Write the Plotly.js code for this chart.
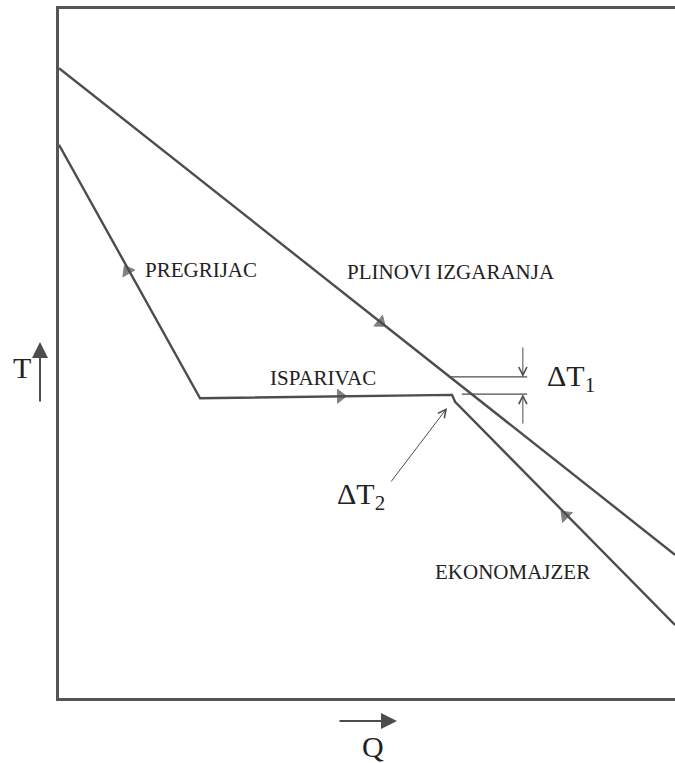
<!DOCTYPE html>
<html>
<head>
<meta charset="utf-8">
<script src="https://cdn.plot.ly/plotly-3.0.1.min.js"></script>
<style>
  html, body { margin: 0; padding: 0; background: #fff; }
  #chart { width: 675px; height: 763px; }
</style>
</head>
<body>
<div id="chart"></div>
<script>
// T-Q diagram of a heat recovery steam generator (relative scales, 0-100)

// Flue gas cooling line
const gasQ = [0, 100];
const gasT = [91.4, 20.8];

// Water / steam heating line: superheater -> evaporator -> economizer
const steamQ = [0, 22.9, 63.8, 64.3, 100];
const steamT = [80.3, 43.5, 44.0, 43.0, 10.6];

// Flow direction arrows: start point of the segment and arrow position
const flowFromQ = [22.9, 0, 22.9, 100];
const flowFromT = [43.5, 91.4, 43.5, 10.6];
const flowTipQ = [11.1, 52.2, 45.7, 82.2];
const flowTipT = [62.0, 54.5, 43.8, 26.5];

// Section names
const sectionLabels = ['PREGRIJAC', 'PLINOVI IZGARANJA', 'ISPARIVAC', 'EKONOMAJZER'];

// Pinch dimension: gas temperature and water temperature at the evaporator end
const pinchGasT = 46.6;
const pinchWaterT = 44.1;
const pinchGasQ = [63.3, 76.0];
const pinchWaterQ = [65.4, 76.0];
const pinchMarkQ = 75.3;

// Approach point where the economizer meets the evaporator
const approachQ = 63.0;
const approachT = 42.1;

const lineColor = '#4d4d4d';
const serif = 'Liberation Serif, Times New Roman, serif';

const traces = [
  { x: gasQ, y: gasT, mode: 'lines', line: { color: lineColor, width: 2.4 }, hoverinfo: 'skip' },
  { x: steamQ, y: steamT, mode: 'lines', line: { color: lineColor, width: 2.4 }, hoverinfo: 'skip' },
  { x: pinchGasQ, y: [pinchGasT, pinchGasT], mode: 'lines', line: { color: lineColor, width: 1.3 }, hoverinfo: 'skip' },
  { x: pinchWaterQ, y: [pinchWaterT, pinchWaterT], mode: 'lines', line: { color: lineColor, width: 1.3 }, hoverinfo: 'skip' }
];

// one two-point marker trace per arrow so the head follows the segment direction
flowTipQ.forEach((q, i) => {
  traces.push({
    x: [flowFromQ[i], q], y: [flowFromT[i], flowTipT[i]],
    mode: 'markers', hoverinfo: 'skip', cliponaxis: false,
    marker: { symbol: 'triangle-up', size: [0, 12], color: lineColor, angleref: 'previous',
              line: { width: 1, color: lineColor } }
  });
});

const annotations = [];
const labelPos = [
  { x: 13.6, y: 62.1 },
  { x: 46.4, y: 61.8 },
  { x: 33.9, y: 46.4 },
  { x: 60.7, y: 18.3 }
];
sectionLabels.forEach((t, i) => {
  annotations.push({
    x: labelPos[i].x, y: labelPos[i].y, xref: 'x', yref: 'y', text: t, showarrow: false,
    xanchor: 'left', yanchor: 'middle', font: { family: serif, size: 21, color: '#222' }
  });
});

// dimension arrows for the pinch difference
annotations.push({
  x: pinchMarkQ, y: pinchGasT, ax: 0, ay: -31, text: '', showarrow: true,
  arrowhead: 5, arrowwidth: 1, arrowsize: 1.6, arrowcolor: lineColor
});
annotations.push({
  x: pinchMarkQ, y: pinchWaterT, ax: 0, ay: 31, text: '', showarrow: true,
  arrowhead: 5, arrowwidth: 1, arrowsize: 1.6, arrowcolor: lineColor
});
annotations.push({
  x: 78.9, y: 46.4, xanchor: 'left', yanchor: 'middle', text: 'ΔT<sub>1</sub>', showarrow: false,
  font: { family: serif, size: 30, color: '#222' }
});

// approach temperature arrow
annotations.push({
  x: approachQ, y: approachT, ax: -57, ay: 75, text: '', showarrow: true,
  arrowhead: 5, arrowwidth: 1, arrowsize: 1.6, arrowcolor: lineColor
});
annotations.push({
  x: 44.8, y: 29.3, xanchor: 'left', yanchor: 'middle', text: 'ΔT<sub>2</sub>', showarrow: false,
  font: { family: serif, size: 30, color: '#222' }
});

// axis names with their arrows
annotations.push({
  x: -0.0593, y: 0.479, xref: 'paper', yref: 'paper', xanchor: 'center', yanchor: 'middle',
  text: 'T', showarrow: false, font: { family: serif, size: 30, color: '#222' }
});
annotations.push({
  x: -0.0308, y: 0.5167, xref: 'paper', yref: 'paper', ax: 0, ay: 61, text: '', showarrow: true,
  arrowhead: 2, arrowwidth: 2, arrowsize: 1.6, arrowcolor: lineColor
});
annotations.push({
  x: 0.51, y: -0.0697, xref: 'paper', yref: 'paper', xanchor: 'center', yanchor: 'middle',
  text: 'Q', showarrow: false, font: { family: serif, size: 30, color: '#222' }
});
annotations.push({
  x: 0.5487, y: -0.0334, xref: 'paper', yref: 'paper', ax: -59, ay: 0, text: '', showarrow: true,
  arrowhead: 2, arrowwidth: 2, arrowsize: 1.6, arrowcolor: lineColor
});

const axisStyle = {
  range: [0, 100], showgrid: false, zeroline: false, showticklabels: false, ticks: '',
  showline: true, linecolor: '#555', linewidth: 3, fixedrange: true
};

const layout = {
  width: 675, height: 763,
  margin: { l: 59, r: 0, t: 9, b: 65 },
  paper_bgcolor: '#fff', plot_bgcolor: '#fff',
  showlegend: false,
  xaxis: Object.assign({}, axisStyle, { mirror: true }),
  yaxis: Object.assign({}, axisStyle),
  annotations: annotations
};

Plotly.newPlot('chart', traces, layout, { displayModeBar: false, staticPlot: true });
</script>
</body>
</html>
